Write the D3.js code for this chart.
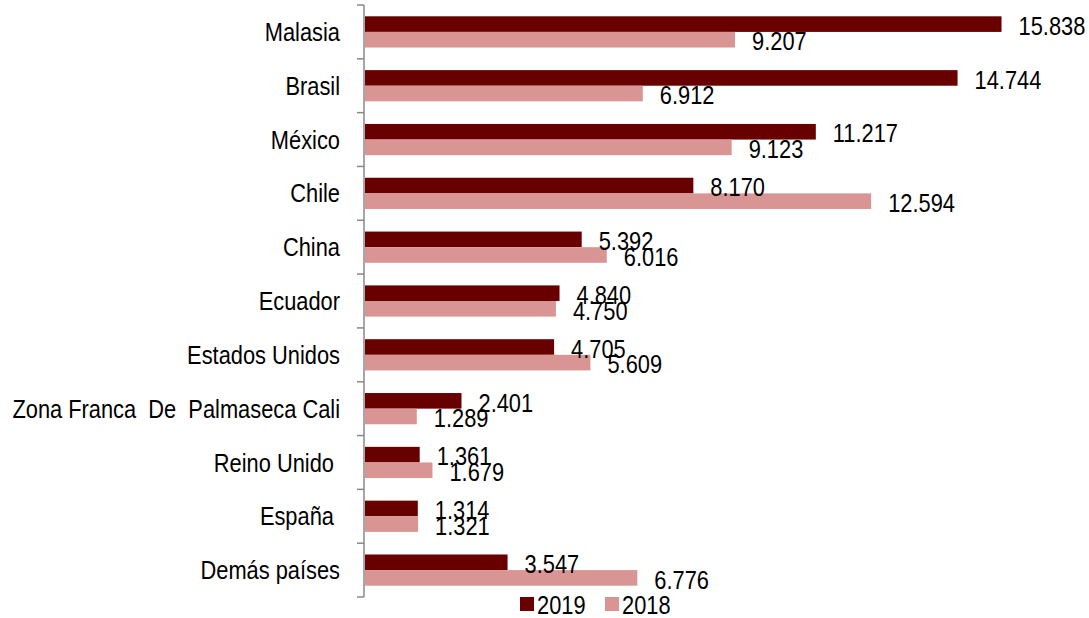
<!DOCTYPE html>
<html>
<head>
<meta charset="utf-8">
<script src="https://cdn.jsdelivr.net/npm/d3@7"></script>
<style>
  body { margin: 0; background: #fff; }
  svg text { font-family: "Liberation Sans", Arial, sans-serif; fill: #000; white-space: pre; }
</style>
</head>
<body>
<svg id="chart" width="1089" height="618"></svg>
<script>
const countries = ["Malasia", "Brasil", "México", "Chile", "China", "Ecuador", "Estados Unidos",
  "Zona Franca  De  Palmaseca Cali", "Reino Unido ", "España ", "Demás países"];
const values2019 = [15838, 14744, 11217, 8170, 5392, 4840, 4705, 2401, 1361, 1314, 3547];
const values2018 = [9207, 6912, 9123, 12594, 6016, 4750, 5609, 1289, 1679, 1321, 6776];
const seriesNames = ["2019", "2018"];
const seriesColors = ["#690000", "#D99594"];

const svg = d3.select("#chart");
// the source font is a narrow face; squeeze the text horizontally
const SQ = 0.84;
const FS = 26;

const x = d3.scaleLinear()
  .domain([0, 18000])
  .range([365, 365 + 18000 * 0.04019]);

const y = d3.scaleBand()
  .domain(countries)
  .range([5, 597])
  .paddingInner(0.42)
  .paddingOuter(0.21);

const ySub = d3.scaleBand()
  .domain(seriesNames)
  .range([0, y.bandwidth()]);

const fmt = v => d3.format(",")(v).replace(/,/g, ".");

const rows = countries.map((c, i) => ({ country: c, vals: [values2019[i], values2018[i]] }));

// bars
const groups = svg.append("g")
  .selectAll("g")
  .data(rows)
  .join("g")
  .attr("transform", d => `translate(0,${y(d.country)})`);

groups.selectAll("rect")
  .data(d => d.vals.map((v, k) => ({ key: seriesNames[k], value: v, k })))
  .join("rect")
  .attr("x", x(0))
  .attr("y", d => ySub(d.key))
  .attr("width", d => x(d.value) - x(0))
  .attr("height", ySub.bandwidth())
  .attr("fill", d => seriesColors[d.k]);

groups.selectAll("text")
  .data(d => d.vals.map((v, k) => ({ key: seriesNames[k], value: v })))
  .join("text")
  .attr("transform", d => `translate(${x(d.value) + 17},${ySub(d.key) + ySub.bandwidth() / 2 + 1.5}) scale(${SQ},1)`)
  .attr("dominant-baseline", "central")
  .attr("font-size", FS)
  .text(d => fmt(d.value));

// category axis
const axis = svg.append("g")
  .attr("transform", `translate(${x(0) - 1},0)`)
  .call(d3.axisLeft(y).tickSize(0).tickPadding(24));
axis.select(".domain").remove();
axis.selectAll("text")
  .attr("font-size", FS)
  .attr("font-family", null)
  .attr("x", -24 / SQ)
  .attr("transform", `scale(${SQ},1)`)
  .attr("dy", "0.35em");

const step = y.step();
const boundaries = countries.map(c => y(c) - y.paddingInner() * step / 2);
boundaries.push(y(countries[countries.length - 1]) + y.bandwidth() + y.paddingInner() * step / 2);

axis.append("line")
  .attr("y1", boundaries[0])
  .attr("y2", boundaries[boundaries.length - 1])
  .attr("stroke", "#888")
  .attr("stroke-width", 1.5);

axis.selectAll(".bound")
  .data(boundaries)
  .join("line")
  .attr("class", "bound")
  .attr("x1", -7)
  .attr("x2", 0)
  .attr("y1", d => d)
  .attr("y2", d => d)
  .attr("stroke", "#888")
  .attr("stroke-width", 1.5);

// legend
const legend = svg.append("g")
  .selectAll("g")
  .data(seriesNames)
  .join("g")
  .attr("transform", (d, i) => `translate(${520 + i * 85},597)`);

legend.append("rect")
  .attr("width", 14)
  .attr("height", 14)
  .attr("fill", (d, i) => seriesColors[i]);

legend.append("text")
  .attr("transform", `translate(17,8) scale(${SQ},1)`)
  .attr("dominant-baseline", "central")
  .attr("font-size", FS)
  .text(d => d);
</script>
</body>
</html>
